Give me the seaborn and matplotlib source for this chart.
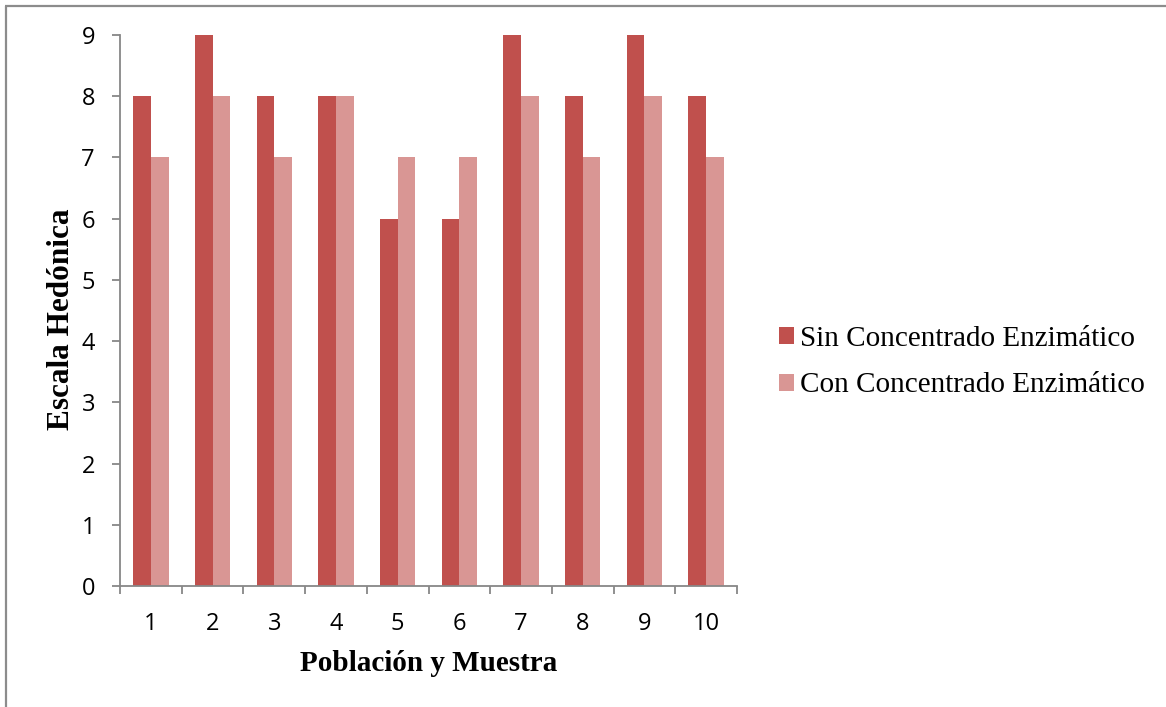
import matplotlib
matplotlib.use("Agg")
import matplotlib.pyplot as plt
from matplotlib.lines import Line2D
from matplotlib.patches import Patch
from matplotlib.ticker import FixedLocator
import seaborn as sns
import pandas as pd
import numpy as np

# Hedonic scale scores per sample
muestras = ["1", "2", "3", "4", "5", "6", "7", "8", "9", "10"]
sin_concentrado = [8, 9, 8, 8, 6, 6, 9, 8, 9, 8]
con_concentrado = [7, 8, 7, 8, 7, 7, 8, 7, 8, 7]
series = ["Sin Concentrado Enzimático", "Con Concentrado Enzimático"]
colores = ["#C0504D", "#D99694"]
y_ticks = [0, 1, 2, 3, 4, 5, 6, 7, 8, 9]

df = pd.DataFrame({
    "Muestra": muestras * 2,
    "Valor": sin_concentrado + con_concentrado,
    "Serie": [series[0]] * len(muestras) + [series[1]] * len(muestras),
})

sns.set_style("white")
plt.rcParams["font.family"] = ["Open Sans", "DejaVu Sans"]
plt.rcParams["text.color"] = "black"
plt.rcParams["axes.labelcolor"] = "black"
plt.rcParams["xtick.labelcolor"] = "black"
plt.rcParams["ytick.labelcolor"] = "black"

fig = plt.figure(figsize=(11.66, 7.07), dpi=100)
ax = fig.add_axes([120 / 1166, 1 - 586 / 707, 617 / 1166, 551 / 707])

sns.barplot(data=df, x="Muestra", y="Valor", hue="Serie", order=muestras,
            hue_order=series, palette=colores, saturation=1, width=0.575,
            linewidth=0, ax=ax, legend=False)

spine_color = "#878787"
ax.set_ylim(0, 9)
ax.set_xlim(-0.5, len(muestras) - 0.5)
ax.set_yticks(y_ticks)
for side in ["top", "right"]:
    ax.spines[side].set_visible(False)
for side in ["left", "bottom"]:
    ax.spines[side].set_color(spine_color)
    ax.spines[side].set_linewidth(1.3)

ax.tick_params(axis="y", direction="out", length=6, width=1.3, color=spine_color,
               labelsize=17, labelcolor="black", pad=12, left=True)
ax.tick_params(axis="x", which="major", length=0, labelsize=17, labelcolor="black", pad=19)
ax.xaxis.set_minor_locator(FixedLocator(np.arange(-0.5, len(muestras), 1.0)))
ax.tick_params(axis="x", which="minor", direction="out", length=6, width=1.3,
               color=spine_color, bottom=True)

serif = ["Liberation Serif", "DejaVu Serif"]
ax.set_xlabel("Población y Muestra", fontsize=21, fontweight="bold", family=serif, color="black")
ax.set_ylabel("Escala Hedónica", fontsize=22.5, fontweight="bold", family=serif, color="black")
ax.xaxis.set_label_coords(0.5, -0.116)
ax.yaxis.set_label_coords(-0.072, 0.485)

handles = [Patch(facecolor=c, edgecolor="none") for c in colores]
fig.legend(handles, series, loc="center left", bbox_to_anchor=(779 / 1166, 1 - 362 / 707),
           frameon=False, prop={"family": serif, "size": 21},
           handlelength=0.52, handleheight=0.52, handletextpad=0.2,
           labelspacing=0.72, borderpad=0, borderaxespad=0, labelcolor="black")

# Outer chart frame (top and left edges)
fig.add_artist(Line2D([6 / 1166, 6 / 1166], [0, 1 - 6 / 707], transform=fig.transFigure,
                      color="#8c8c8c", linewidth=1.6, solid_capstyle="butt"))
fig.add_artist(Line2D([5 / 1166, 1], [1 - 6 / 707, 1 - 6 / 707], transform=fig.transFigure,
                      color="#8c8c8c", linewidth=1.6, solid_capstyle="butt"))

fig.savefig("out.png", dpi=100)
